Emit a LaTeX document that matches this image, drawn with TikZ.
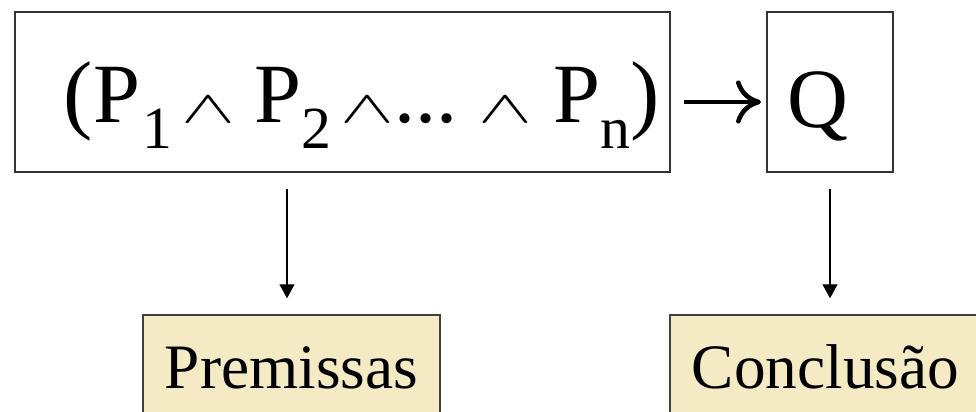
\documentclass[tikz,border=0pt]{standalone}
\usepackage{fontspec}
\setmainfont{Liberation Serif}
\usepackage{graphicx}
\usetikzlibrary{arrows.meta,positioning,calc}
\usepackage{xcolor}
\definecolor{tan}{RGB}{244,234,196}
% pieces of the formula
\newcommand\pa[1]{{\fontsize{50}{50}\selectfont#1}}
\newcommand\sbt[1]{\raisebox{-15pt}{\fontsize{34}{34}\selectfont#1}}
\newcommand\conj{{\fontsize{10}{12}\selectfont\scalebox{4.6}[2.6]{$\wedge$}}}

\begin{document}
\begin{tikzpicture}[
  top/.style={draw=black!80,line width=1.1pt,inner sep=0pt,
              font=\fontsize{48}{50}\selectfont},
  res/.style={draw=black!75,line width=0.8pt,fill=tan,inner sep=0pt,
              text height=1.46cm,text depth=0.64cm,
              font=\fontsize{36}{40}\selectfont},
  dn/.style={-{Triangle[length=0.28cm,width=0.3cm]},line width=0.6pt,
             shorten <=0.32cm,shorten >=0.32cm},
  imp/.style={-{To[length=0.5cm,width=0.86cm]},line width=2.6pt,
              shorten <=0.26cm,shorten >=0.1cm}
]
\useasboundingbox (0,0) rectangle (19.52,-8.22);
\clip (0,0) rectangle (19.52,-8.22);

\node[top,minimum width=13.1cm,text height=2.2cm,text depth=1.0cm]
  (form) at (6.85,-1.84)
  {\hspace*{0.77cm}\pa(P\hspace{1.5pt}\sbt{1}\hspace{5pt}\conj\hspace{11pt}P\sbt{2}\hspace{5pt}\conj...\hspace{12pt}\conj\hspace{12pt}P\sbt{n}\pa)};
\node[top,minimum width=2.52cm,text height=2.3cm,text depth=0.9cm]
  (q) at (16.6,-1.84) {Q\kern0.48cm};

\node[res,minimum width=5.94cm] (prem) at (5.83,-7.35) {Premissas};
\node[res,minimum width=6.22cm] (conc) at (16.51,-7.35) {Conclusão};

\draw[imp] ([yshift=-0.2cm]form.east) -- ([yshift=-0.2cm]q.west);
\draw[dn] ([xshift=-0.09cm]prem.north |- form.south) -- ([xshift=-0.09cm]prem.north);
\draw[dn] (q.south) -- (conc.north -| q.south);
\end{tikzpicture}
\end{document}
